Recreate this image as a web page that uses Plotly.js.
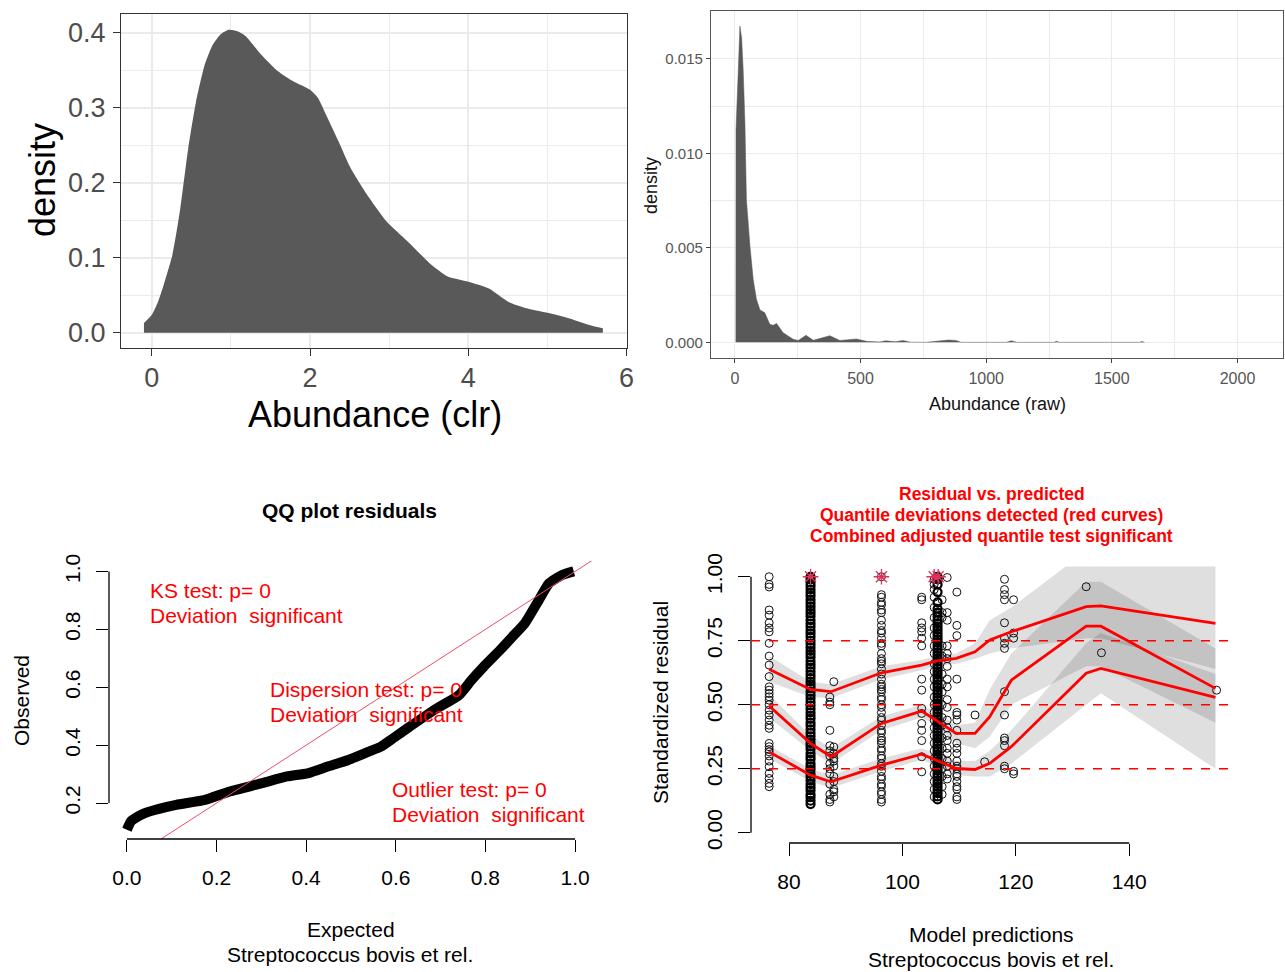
<!DOCTYPE html>
<html><head><meta charset="utf-8">
<script src="https://cdn.plot.ly/plotly-3.0.1.min.js"></script>
<style>html,body{margin:0;padding:0;background:#fff}#chart{width:1285px;height:972px}</style>
</head><body><div id="chart"></div>
<script>
// ---------- Panel A: density of clr abundance ----------
const clrX = [-0.1, 0, 0.077, 0.15, 0.26, 0.36, 0.46, 0.56, 0.67, 0.77, 0.87, 0.97, 1.08, 1.18, 1.38, 1.59, 1.79, 2.0, 2.1, 2.2, 2.36, 2.51, 2.72, 2.97, 3.23, 3.54, 3.74, 4.0, 4.26, 4.51, 4.72, 5.03, 5.28, 5.54, 5.7];
const clrDensity = [0.013, 0.024, 0.041, 0.064, 0.104, 0.166, 0.246, 0.309, 0.358, 0.384, 0.398, 0.404, 0.402, 0.396, 0.371, 0.349, 0.335, 0.324, 0.313, 0.291, 0.255, 0.220, 0.184, 0.148, 0.122, 0.090, 0.075, 0.068, 0.059, 0.041, 0.033, 0.026, 0.019, 0.010, 0.006];
const clrTicks = [0, 2, 4, 6];
const clrDensTicks = [0, 0.1, 0.2, 0.3, 0.4];
const clrDensTickText = ['0.0', '0.1', '0.2', '0.3', '0.4'];

// ---------- Panel B: density of raw abundance ----------
const rawX = [4, 4.5, 13, 20, 27, 33, 40, 46, 60, 73, 86, 100, 119, 139, 152, 166, 192, 232, 252, 283, 312, 338, 378, 418, 484, 524, 577, 600, 640, 668, 700, 760, 820, 850, 880, 900, 1080, 1100, 1120, 1270, 1280, 1290, 1610, 1620, 1630];
const rawDensity = [0, 0.01125, 0.0142, 0.01674, 0.0161, 0.01442, 0.0116, 0.00755, 0.00509, 0.00333, 0.00227, 0.00171, 0.00157, 0.00095, 0.0009, 0.001, 0.00051, 0.00016, 0.0001, 0.00037, 0.00011, 0.0002, 0.00035, 0.0001, 0.00018, 0.00005, 0.00002, 0.00008, 0.00003, 0.0001, 0.00001, 0, 0.0001, 0.00012, 0.0001, 0, 0, 0.00008, 0, 0, 0.00006, 0, 0, 0.00004, 0];
const rawTicks = [0, 500, 1000, 1500, 2000];
const rawDensTicks = [0, 0.005, 0.010, 0.015];
const rawDensTickText = ['0.000', '0.005', '0.010', '0.015'];

// ---------- Panel C: QQ plot of residuals ----------
const qqExpected = [0.0, 0.009, 0.032, 0.064, 0.11, 0.174, 0.229, 0.302, 0.357, 0.403, 0.448, 0.494, 0.540, 0.567, 0.594, 0.631, 0.686, 0.741, 0.769, 0.796, 0.833, 0.860, 0.888, 0.915, 0.942, 0.970, 0.997];
const qqObserved = [0.108, 0.137, 0.16, 0.177, 0.194, 0.211, 0.24, 0.269, 0.292, 0.303, 0.326, 0.349, 0.378, 0.395, 0.424, 0.464, 0.522, 0.573, 0.625, 0.671, 0.729, 0.774, 0.821, 0.890, 0.959, 0.987, 1.0];
const qqTicks = [0, 0.2, 0.4, 0.6, 0.8, 1.0];
const qqTickText = ['0.0', '0.2', '0.4', '0.6', '0.8', '1.0'];
const qqYTicks = [0.2, 0.4, 0.6, 0.8, 1.0];
const qqYTickText = ['0.2', '0.4', '0.6', '0.8', '1.0'];

// ---------- Panel D: residual vs predicted ----------
const res76 = [1.0, 0.97, 0.96, 0.87, 0.85, 0.82, 0.80, 0.785, 0.74, 0.69, 0.655, 0.61, 0.57, 0.557, 0.544, 0.531, 0.518, 0.50, 0.479, 0.46, 0.44, 0.42, 0.408, 0.349, 0.336, 0.325, 0.316, 0.30, 0.28, 0.258, 0.232, 0.212, 0.193, 0.18];
const res84 = [0.112, 0.125, 0.139, 0.15, 0.166, 0.178, 0.19, 0.205, 0.219, 0.23, 0.246, 0.258, 0.27, 0.286, 0.297, 0.31, 0.326, 0.338, 0.35, 0.364, 0.377, 0.39, 0.404, 0.418, 0.43, 0.445, 0.457, 0.47, 0.484, 0.497, 0.51, 0.524, 0.537, 0.55, 0.566, 0.578, 0.59, 0.604, 0.617, 0.63, 0.645, 0.657, 0.67, 0.686, 0.698, 0.71, 0.724, 0.737, 0.75, 0.765, 0.778, 0.79, 0.805, 0.817, 0.83, 0.846, 0.858, 0.87, 0.884, 0.897, 0.91, 0.925, 0.937, 0.95, 0.964, 0.977, 0.99, 1.0];
const res87 = [0.53, 0.51, 0.50, 0.40, 0.34, 0.32, 0.30, 0.27, 0.25, 0.23, 0.19, 0.15, 0.13, 0.12];
const res88 = [0.59, 0.335, 0.31, 0.29, 0.28, 0.26, 0.22, 0.20, 0.17, 0.16, 0.14];
const res96 = [1.0, 0.93, 0.92, 0.90, 0.89, 0.87, 0.86, 0.83, 0.81, 0.79, 0.78, 0.76, 0.74, 0.73, 0.70, 0.68, 0.67, 0.66, 0.64, 0.62, 0.60, 0.58, 0.57, 0.56, 0.55, 0.53, 0.52, 0.50, 0.49, 0.47, 0.45, 0.44, 0.42, 0.40, 0.39, 0.37, 0.36, 0.35, 0.33, 0.32, 0.30, 0.29, 0.27, 0.26, 0.24, 0.22, 0.21, 0.19, 0.18, 0.16, 0.15, 0.13, 0.12];
const res103 = [0.92, 0.91, 0.82, 0.80, 0.785, 0.76, 0.73, 0.60, 0.557, 0.486, 0.466, 0.427, 0.40, 0.36, 0.297, 0.238];
const res105 = [0.99, 0.97, 0.95, 0.92, 0.88, 0.84, 0.80, 0.77, 0.73, 0.70, 0.66, 0.63, 0.60, 0.57, 0.53, 0.50, 0.47, 0.44, 0.41, 0.38, 0.35, 0.32, 0.29, 0.26, 0.23, 0.20, 0.17, 0.14];
const res106 = [0.13, 0.142, 0.155, 0.167, 0.18, 0.193, 0.205, 0.218, 0.23, 0.243, 0.255, 0.268, 0.28, 0.293, 0.305, 0.318, 0.33, 0.343, 0.355, 0.368, 0.38, 0.393, 0.405, 0.418, 0.43, 0.443, 0.455, 0.468, 0.48, 0.493, 0.505, 0.518, 0.53, 0.543, 0.555, 0.568, 0.58, 0.593, 0.605, 0.618, 0.63, 0.643, 0.655, 0.668, 0.68, 0.693, 0.705, 0.718, 0.73, 0.743, 0.755, 0.768, 0.78, 0.793, 0.805, 0.818, 0.83, 0.845, 0.86, 0.875, 0.90, 0.94, 0.97, 0.99, 1.0];
const res107 = [0.91, 0.86, 0.84, 0.73, 0.69, 0.62, 0.58, 0.55, 0.50, 0.45, 0.42, 0.37, 0.33, 0.29, 0.25, 0.22, 0.18, 0.15];
const res108 = [0.997, 0.86, 0.83, 0.73, 0.70, 0.68, 0.65, 0.60, 0.57, 0.52, 0.49, 0.44, 0.41, 0.38, 0.36, 0.33, 0.31, 0.28, 0.26, 0.23, 0.21];
const res109 = [0.94, 0.81, 0.77, 0.60, 0.47, 0.46, 0.44, 0.40, 0.35, 0.33, 0.31, 0.28, 0.26, 0.25, 0.23, 0.22, 0.20, 0.18, 0.17, 0.14, 0.13];
const res113 = [0.46];
const res114 = [0.277];
const res118 = [0.99, 0.95, 0.93, 0.91, 0.82, 0.76, 0.74, 0.72, 0.551, 0.46, 0.37, 0.36, 0.34, 0.26, 0.25];
const res120 = [0.91, 0.78, 0.76, 0.24, 0.23];
const res132 = [0.961];
const res135 = [0.703];
const res155 = [0.557];
// sparse groups (distinct open circles) and dense groups (circles merged into solid columns)
const predGroups = [76.5, 87.2, 87.9, 96.3, 103.4, 105.6, 107.0, 107.9, 109.6, 112.8, 114.5, 118.0, 119.6, 132.4, 135.1, 155.4];
const residGroups = [res76, res87, res88, res96, res103, res105, res107, res108, res109, res113, res114, res118, res120, res132, res135, res155];
const densePredGroups = [83.8, 106.2];
const denseResidGroups = [res84, res106];
const outlierX = [83.8, 96.3, 105.6, 106.3];
const outlierY = [1, 1, 1, 1];

const quantX = [76.5, 83.8, 87.4, 96.3, 103.4, 105.9, 109.5, 112.8, 115.4, 119.2, 132.4, 135.0, 155.2];
const q75 = [0.639, 0.56, 0.551, 0.625, 0.655, 0.670, 0.681, 0.707, 0.753, 0.785, 0.883, 0.886, 0.818];
const q75Lo = [0.59, 0.53, 0.525, 0.60, 0.635, 0.65, 0.66, 0.68, 0.70, 0.72, 0.76, 0.76, 0.64];
const q75Hi = [0.69, 0.59, 0.58, 0.65, 0.675, 0.69, 0.70, 0.74, 0.83, 0.88, 1.10, 1.10, 1.10];
const q50 = [0.495, 0.349, 0.297, 0.427, 0.475, 0.44, 0.388, 0.388, 0.453, 0.596, 0.807, 0.807, 0.564];
const q50Lo = [0.45, 0.32, 0.27, 0.40, 0.45, 0.42, 0.35, 0.33, 0.375, 0.50, 0.65, 0.65, 0.43];
const q50Hi = [0.54, 0.38, 0.33, 0.455, 0.50, 0.47, 0.42, 0.43, 0.56, 0.70, 0.98, 0.98, 0.72];
const q25 = [0.316, 0.225, 0.199, 0.264, 0.307, 0.284, 0.251, 0.247, 0.271, 0.336, 0.623, 0.642, 0.529];
const q25Lo = [0.29, 0.20, 0.175, 0.24, 0.285, 0.26, 0.225, 0.22, 0.22, 0.27, 0.50, 0.545, 0.25];
const q25Hi = [0.34, 0.25, 0.225, 0.29, 0.33, 0.31, 0.28, 0.28, 0.32, 0.40, 0.74, 0.78, 0.62];
const quantileLevels = [0.25, 0.5, 0.75];
const predTicks = [80, 100, 120, 140];
const residTicks = [0, 0.25, 0.5, 0.75, 1.0];
const residTickText = ['0.00', '0.25', '0.50', '0.75', '1.00'];

// ---------- build ----------
const FONT = 'Liberation Sans, Arial, sans-serif';
const traces = [];

traces.push({x: clrX, y: clrDensity, xaxis: 'x', yaxis: 'y', type: 'scatter', mode: 'lines',
  line: {width: 0, shape: 'spline', smoothing: 0.6, color: '#595959'}, fill: 'tozeroy', fillcolor: '#595959', hoverinfo: 'skip'});
traces.push({x: rawX, y: rawDensity, xaxis: 'x2', yaxis: 'y2', type: 'scatter', mode: 'lines',
  line: {width: 0.5, color: '#595959'}, fill: 'tozeroy', fillcolor: '#595959', hoverinfo: 'skip'});

traces.push({x: qqExpected, y: qqObserved, xaxis: 'x3', yaxis: 'y3', type: 'scatter', mode: 'lines',
  line: {width: 10, color: '#000', shape: 'spline', smoothing: 0.5}, hoverinfo: 'skip'});
// 1:1 reference line
traces.push({x: [-0.04, 1.04], y: [-0.04, 1.04], xaxis: 'x3', yaxis: 'y3', type: 'scatter', mode: 'lines',
  line: {width: 1, color: '#e8506a'}, hoverinfo: 'skip'});

function band(lo, hi) {
  return {x: quantX.concat(quantX.slice().reverse()), y: hi.concat(lo.slice().reverse()),
    xaxis: 'x4', yaxis: 'y4', type: 'scatter', mode: 'lines', fill: 'toself',
    fillcolor: 'rgba(0,0,0,0.125)', line: {width: 0}, hoverinfo: 'skip'};
}
traces.push(band(q75Lo, q75Hi));
traces.push(band(q50Lo, q50Hi));
traces.push(band(q25Lo, q25Hi));

function flatten(groupsX, groupsY) {
  const xs = [], ys = [];
  groupsX.forEach((gx, i) => groupsY[i].forEach(v => { xs.push(gx); ys.push(v); }));
  return [xs, ys];
}
const sparse = flatten(predGroups, residGroups);
const dense = flatten(densePredGroups, denseResidGroups);
traces.push({x: sparse[0], y: sparse[1], xaxis: 'x4', yaxis: 'y4', type: 'scatter', mode: 'markers',
  marker: {symbol: 'circle-open', size: 8, color: '#111', line: {width: 1}}, hoverinfo: 'skip'});
traces.push({x: dense[0], y: dense[1], xaxis: 'x4', yaxis: 'y4', type: 'scatter', mode: 'markers',
  marker: {symbol: 'circle-open', size: 8, color: '#000', line: {width: 2.2}}, hoverinfo: 'skip'});

[q75, q50, q25].forEach(q => traces.push({x: quantX, y: q, xaxis: 'x4', yaxis: 'y4', type: 'scatter', mode: 'lines',
  line: {width: 2.8, color: '#ff0000'}, hoverinfo: 'skip'}));
traces.push({x: outlierX, y: outlierY, xaxis: 'x4', yaxis: 'y4', type: 'scatter', mode: 'markers',
  marker: {symbol: 'asterisk-open', size: 13, color: '#e0305a', line: {width: 1.3, color: '#e0305a'}}, hoverinfo: 'skip'});

function ann(text, x, y, size, opts) {
  return Object.assign({text: text, x: x, y: y, xref: 'paper', yref: 'paper', xanchor: 'center', yanchor: 'middle',
    showarrow: false, font: {size: size, color: '#000'}}, opts || {});
}
function red(text, x, y) {
  return {text: text, x: x, y: y, xref: 'x3', yref: 'y3', xanchor: 'left', yanchor: 'middle', showarrow: false,
    font: {size: 21, color: '#ff0000'}};
}

const ggGrid = '#ebebeb';
const layout = {
  width: 1285, height: 972, margin: {l: 0, r: 0, t: 0, b: 0}, showlegend: false,
  paper_bgcolor: '#fff', plot_bgcolor: 'rgba(0,0,0,0)', font: {family: FONT, color: '#000'},
  xaxis: {domain: [0.09416, 0.48794], anchor: 'y', range: [-0.39, 6.005], tickvals: clrTicks,
    ticks: 'outside', ticklen: 7, tickwidth: 1.2, tickcolor: '#333', showgrid: true, gridcolor: ggGrid, gridwidth: 1.6,
    minor: {showgrid: true, gridcolor: ggGrid, gridwidth: 0.8, tickvals: [1, 3, 5]},
    showline: true, mirror: true, linecolor: '#333', linewidth: 1.3, zeroline: false,
    tickfont: {size: 27, color: '#4d4d4d'}, ticklabelstandoff: -2},
  yaxis: {domain: [0.64198, 0.98560], anchor: 'x', range: [-0.0203, 0.425], tickvals: clrDensTicks, ticktext: clrDensTickText,
    ticks: 'outside', ticklen: 7, tickwidth: 1.2, tickcolor: '#333', showgrid: true, gridcolor: ggGrid, gridwidth: 1.6,
    minor: {showgrid: true, gridcolor: ggGrid, gridwidth: 0.8, tickvals: [0.05, 0.15, 0.25, 0.35]},
    showline: true, mirror: true, linecolor: '#333', linewidth: 1.3, zeroline: false,
    tickfont: {size: 27, color: '#4d4d4d'}, ticklabelstandoff: 2},
  xaxis2: {domain: [0.55331, 0.99844], anchor: 'y2', range: [-95, 2181], tickvals: rawTicks,
    ticks: 'outside', ticklen: 4, tickwidth: 1, tickcolor: '#444', showgrid: true, gridcolor: ggGrid, gridwidth: 1.3,
    minor: {showgrid: true, gridcolor: ggGrid, gridwidth: 0.8, tickvals: [250, 750, 1250, 1750]},
    showline: true, mirror: true, linecolor: '#555', linewidth: 1.3, zeroline: false,
    tickfont: {size: 16, color: '#555'}, ticklabelstandoff: 2},
  yaxis2: {domain: [0.63169, 0.98868], anchor: 'x2', range: [-0.00083, 0.01754], tickvals: rawDensTicks, ticktext: rawDensTickText,
    ticks: 'outside', ticklen: 4, tickwidth: 1, tickcolor: '#444', showgrid: true, gridcolor: ggGrid, gridwidth: 1.3,
    minor: {showgrid: true, gridcolor: ggGrid, gridwidth: 0.8, tickvals: [0.0025, 0.0075, 0.0125]},
    showline: true, mirror: true, linecolor: '#555', linewidth: 1.3, zeroline: false,
    tickfont: {size: 15, color: '#555'}, ticklabelstandoff: 0},
  xaxis3: {domain: [0.08482, 0.46148], anchor: 'y3', range: [-0.04, 1.04], tickvals: qqTicks, ticktext: qqTickText,
    ticks: 'outside', ticklen: 12, tickwidth: 1.3, tickcolor: '#000', showgrid: false, showline: false, zeroline: false,
    tickfont: {size: 21, color: '#000'}, ticklabelstandoff: 8},
  yaxis3: {domain: [0.13683, 0.42284], anchor: 'x3', range: [0.076, 1.036], tickvals: qqYTicks, ticktext: qqYTickText,
    ticks: 'outside', ticklen: 12, tickwidth: 1.3, tickcolor: '#000', showgrid: false, showline: false, zeroline: false,
    tickangle: -90, tickfont: {size: 21, color: '#000'}, ticklabelstandoff: 8},
  xaxis4: {domain: [0.58444, 0.96265], anchor: 'y4', range: [73.3, 159], tickvals: predTicks,
    ticks: 'outside', ticklen: 12, tickwidth: 1.3, tickcolor: '#000', showgrid: false, showline: false, zeroline: false,
    tickfont: {size: 21, color: '#000'}, ticklabelstandoff: 8},
  yaxis4: {domain: [0.13272, 0.41718], anchor: 'x4', range: [-0.04, 1.04], tickvals: residTicks, ticktext: residTickText,
    ticks: 'outside', ticklen: 12, tickwidth: 1.3, tickcolor: '#000', showgrid: false, showline: false, zeroline: false,
    tickangle: -90, tickfont: {size: 21, color: '#000'}, ticklabelstandoff: 8},
  shapes: [
    {type: 'line', xref: 'x3', yref: 'y3 domain', x0: qqTicks[0], x1: qqTicks[qqTicks.length - 1], y0: 0, y1: 0, line: {color: '#000', width: 1.3}},
    {type: 'line', xref: 'x3 domain', yref: 'y3', x0: 0, x1: 0, y0: qqYTicks[0], y1: qqYTicks[qqYTicks.length - 1], line: {color: '#000', width: 1.3}},
    {type: 'line', xref: 'x4', yref: 'y4 domain', x0: predTicks[0], x1: predTicks[predTicks.length - 1], y0: 0, y1: 0, line: {color: '#000', width: 1.3}},
    {type: 'line', xref: 'x4 domain', yref: 'y4', x0: 0, x1: 0, y0: residTicks[0], y1: residTicks[residTicks.length - 1], line: {color: '#000', width: 1.3}}
  ].concat(quantileLevels.map(q => ({type: 'line', xref: 'x4 domain', yref: 'y4', x0: 0, x1: 1, y0: q, y1: q,
    line: {color: '#ff0000', width: 1.5, dash: 'dash'}}))),
  annotations: [
    ann('Abundance (clr)', 0.29183, 0.57407, 36),
    ann('density', 0.03268, 0.81481, 36, {textangle: -90}),
    ann('Abundance (raw)', 0.77588, 0.58436, 18, {font: {size: 18, color: '#111'}}),
    ann('density', 0.50661, 0.80967, 18, {textangle: -90, font: {size: 18, color: '#111'}}),
    ann('<b>QQ plot residuals</b>', 0.27237, 0.47428, 21),
    ann('Observed', 0.01712, 0.27984, 21, {textangle: -90}),
    ann('Expected', 0.27315, 0.04321, 21),
    ann('Streptococcus bovis et rel.', 0.27237, 0.01749, 21),
    red('KS test: p= 0', 0.047, 0.935),
    red('Deviation  significant', 0.047, 0.849),
    red('Dispersion test: p= 0', 0.315, 0.591),
    red('Deviation  significant', 0.315, 0.505),
    red('Outlier test: p= 0', 0.587, 0.247),
    red('Deviation  significant', 0.587, 0.160),
    ann('<b>Residual vs. predicted</b>', 0.77198, 0.49177, 17.5, {font: {size: 17.5, color: '#ff0000'}}),
    ann('<b>Quantile deviations detected (red curves)</b>', 0.77198, 0.47016, 17.5, {font: {size: 17.5, color: '#ff0000'}}),
    ann('<b>Combined adjusted quantile test significant</b>', 0.77198, 0.44856, 17.5, {font: {size: 17.5, color: '#ff0000'}}),
    ann('Standardized residual', 0.51440, 0.27675, 21, {textangle: -90}),
    ann('Model predictions', 0.77198, 0.03807, 21),
    ann('Streptococcus bovis et rel.', 0.77121, 0.01235, 21)
  ]
};
Plotly.newPlot('chart', traces, layout, {displayModeBar: false, responsive: false});
</script></body></html>
